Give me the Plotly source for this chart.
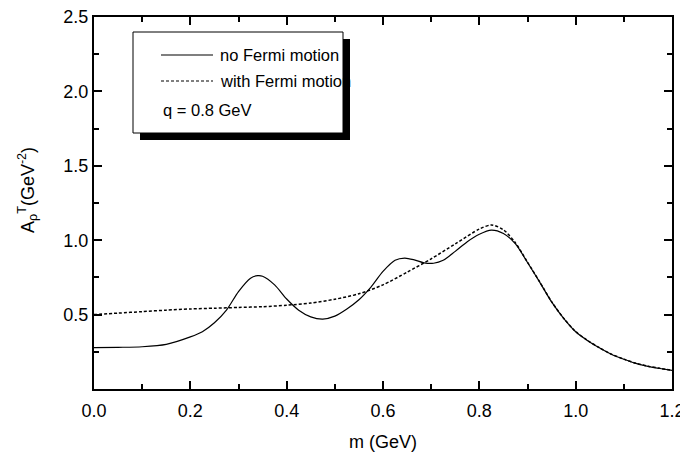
import plotly.graph_objects as go

# m (GeV)
m_nofermi = [0.00, 0.05, 0.10, 0.15, 0.20, 0.225, 0.25, 0.275, 0.30, 0.325, 0.34, 0.35,
             0.375, 0.40, 0.425, 0.45, 0.475, 0.50, 0.525, 0.55, 0.575, 0.60, 0.625,
             0.645, 0.665, 0.685, 0.705, 0.725, 0.75, 0.775, 0.80, 0.825, 0.85, 0.875,
             0.90, 0.925, 0.95, 0.975, 1.00, 1.025, 1.05, 1.075, 1.10, 1.125, 1.15,
             1.175, 1.20]
a_nofermi = [0.278, 0.280, 0.284, 0.300, 0.350, 0.385, 0.445, 0.530, 0.655, 0.745, 0.762,
             0.758, 0.700, 0.605, 0.530, 0.485, 0.470, 0.490, 0.538, 0.600, 0.685, 0.790,
             0.865, 0.880, 0.868, 0.848, 0.845, 0.865, 0.925, 0.990, 1.040, 1.068, 1.045,
             0.975, 0.850, 0.720, 0.585, 0.475, 0.385, 0.325, 0.275, 0.232, 0.200, 0.172,
             0.152, 0.138, 0.125]

m_fermi = [0.00, 0.05, 0.10, 0.15, 0.20, 0.25, 0.30, 0.35, 0.40, 0.45, 0.50, 0.55, 0.60,
           0.65, 0.70, 0.75, 0.80, 0.825, 0.85, 0.875, 0.90, 0.925, 0.95, 0.975, 1.00,
           1.025, 1.05, 1.075, 1.10, 1.125, 1.15, 1.175, 1.20]
a_fermi = [0.500, 0.510, 0.520, 0.530, 0.538, 0.543, 0.548, 0.553, 0.563, 0.578, 0.603,
           0.640, 0.700, 0.785, 0.875, 0.975, 1.075, 1.102, 1.070, 0.982, 0.852, 0.722,
           0.587, 0.476, 0.386, 0.326, 0.276, 0.233, 0.201, 0.173, 0.153, 0.139, 0.126]

x_ticks = [0.0, 0.2, 0.4, 0.6, 0.8, 1.0, 1.2]
y_ticks = [0.5, 1.0, 1.5, 2.0, 2.5]

# the page body keeps its default 8px margin, so the figure is made smaller by that much
PAD = 8
W, H = 688 - PAD, 457 - PAD
L, R, T, B = 94, 672, 17, 389   # plot area in page pixels
FONT = "Liberation Sans, Arial, sans-serif"


def px(x):
    return (x - L) / (R - L)


def py(y):
    return (B - y) / (B - T)


fig = go.Figure()
fig.add_trace(go.Scatter(x=m_nofermi, y=a_nofermi, mode="lines", name="no Fermi motion",
                         line=dict(color="black", width=1.2, shape="spline", smoothing=0.8)))
fig.add_trace(go.Scatter(x=m_fermi, y=a_fermi, mode="lines", name="with Fermi motion",
                         line=dict(color="black", width=1.5, dash="3px,2px",
                                   shape="spline", smoothing=0.8)))

# legend box drawn by hand (with drop shadow)
shapes = [
    dict(type="rect", xref="paper", yref="paper", x0=px(140), x1=px(350), y0=py(140), y1=py(39),
         fillcolor="black", line=dict(width=0), layer="above"),
    dict(type="rect", xref="paper", yref="paper", x0=px(133), x1=px(343), y0=py(133), y1=py(32),
         fillcolor="white", line=dict(color="black", width=1), layer="above"),
    dict(type="line", xref="paper", yref="paper", x0=px(161), x1=px(213), y0=py(55), y1=py(55),
         line=dict(color="black", width=1.2), layer="above"),
    dict(type="line", xref="paper", yref="paper", x0=px(161), x1=px(213), y0=py(81), y1=py(81),
         line=dict(color="black", width=1.2, dash="3px,2px"), layer="above"),
]
annotations = [
    dict(text="no Fermi motion", x=px(218), y=py(55)),
    dict(text="with Fermi motion", x=px(218), y=py(81)),
    dict(text="q = 0.8 GeV", x=px(161), y=py(110)),
]
for a in annotations:
    a.update(xref="paper", yref="paper", xanchor="left", yanchor="middle", showarrow=False,
             font=dict(size=16.5, color="black", family=FONT))
annotations.append(dict(text="A<sub>ρ</sub><sup>T</sup>(GeV<sup>-2</sup>)", x=px(27), y=py(190),
                        xref="paper", yref="paper", textangle=-90, showarrow=False,
                        xanchor="center", yanchor="middle",
                        font=dict(size=18, color="black", family=FONT)))
annotations.append(dict(text="m (GeV)", x=px(383), y=py(442), xref="paper", yref="paper",
                        showarrow=False, xanchor="center", yanchor="middle",
                        font=dict(size=18, color="black", family=FONT)))

axis_common = dict(showline=True, linecolor="black", linewidth=2, mirror="ticks",
                   ticks="inside", ticklen=8, tickwidth=1.5, tickcolor="black",
                   showgrid=False, zeroline=False, automargin=False,
                   ticklabeloverflow="allow",
                   tickfont=dict(size=18, color="black", family=FONT))

fig.update_layout(
    width=W, height=H,
    margin=dict(l=L - PAD, r=688 - R, t=T - PAD, b=457 - B),
    paper_bgcolor="white", plot_bgcolor="white",
    showlegend=False,
    shapes=shapes, annotations=annotations,
    xaxis=dict(range=[0, 1.2], tickvals=x_ticks, ticktext=[f"{v:.1f}" for v in x_ticks],
               minor=dict(dtick=0.1, ticks="inside", ticklen=5, tickwidth=1.5, tickcolor="black"),
               ticklabelstandoff=4,
               **axis_common),
    yaxis=dict(range=[0, 2.5], tickvals=y_ticks, ticktext=[f"{v:.1f}" for v in y_ticks],
               minor=dict(tickvals=[0.25, 0.75, 1.25, 1.75, 2.25], ticks="inside", ticklen=5,
                          tickwidth=1.5, tickcolor="black"),
               **axis_common),
)

fig.write_html("out.html")
